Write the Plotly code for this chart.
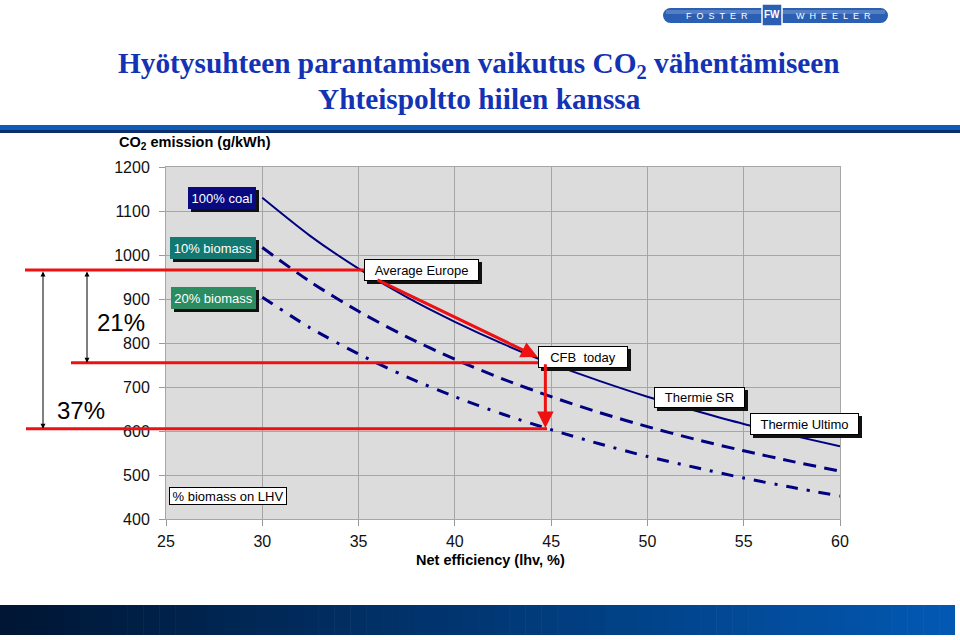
import plotly.graph_objects as go

# ---------------- data ----------------
efficiency = [30, 32.5, 35, 37.5, 40, 42.5, 45, 47.5, 50, 52.5, 55, 57.5, 60]
coal_100 = [1130, 1043, 969, 904, 848, 798, 753, 714, 678, 646, 616, 590, 565]
biomass_10 = [1017, 939, 872, 814, 763, 718, 678, 642, 610, 581, 555, 531, 509]
biomass_20 = [904, 834, 775, 723, 678, 638, 603, 571, 542, 517, 493, 472, 452]

x_ticks = [25, 30, 35, 40, 45, 50, 55, 60]
y_ticks = [400, 500, 600, 700, 800, 900, 1000, 1100, 1200]

avg_europe = (35.3, 966)
cfb_today = (44.7, 755)
reduced_20 = 605
diag_start = (35.9, 945)
diag_end = (44.3, 768)
thermie_sr = (50.35, 676)
thermie_ultimo = (55.35, 616)

# ---------------- layout geometry (pixels) ----------------
W_PX, H_PX = 960, 640
L, R, T, B = 166, 840, 167, 519
PW, PH = R - L, B - T


def px(x):
    return (x - L) / PW


def py(y):
    return (B - y) / PH


NAVY = "#000080"
RED = "#ee1111"
FONT = "Arial, Liberation Sans, sans-serif"

fig = go.Figure()
fig.add_trace(go.Scatter(x=efficiency, y=coal_100, mode="lines", name="100% coal",
                         line=dict(color=NAVY, width=2, shape="spline", smoothing=0.8)))
fig.add_trace(go.Scatter(x=efficiency, y=biomass_10, mode="lines", name="10% biomass",
                         line=dict(color=NAVY, width=3, dash="13px,8px", shape="spline", smoothing=0.8)))
fig.add_trace(go.Scatter(x=efficiency, y=biomass_20, mode="lines", name="20% biomass",
                         line=dict(color=NAVY, width=3, dash="12px,9px,3px,9px", shape="spline",
                                   smoothing=0.8)))

shapes = []
# red reduction lines
shapes.append(dict(type="line", xref="paper", yref="y", x0=px(25), x1=px(365),
                   y0=avg_europe[1], y1=avg_europe[1], line=dict(color=RED, width=3)))
shapes.append(dict(type="line", xref="paper", yref="y", x0=px(71), x1=px(547),
                   y0=cfb_today[1], y1=cfb_today[1], line=dict(color=RED, width=3)))
shapes.append(dict(type="line", xref="paper", yref="y", x0=px(26), x1=px(547),
                   y0=reduced_20, y1=reduced_20, line=dict(color=RED, width=3)))

# top blue band
shapes.append(dict(type="rect", xref="paper", yref="paper", x0=px(0), x1=px(960),
                   y0=py(130), y1=py(125), fillcolor="#0d5cb8", line=dict(width=0), layer="below"))
shapes.append(dict(type="rect", xref="paper", yref="paper", x0=px(0), x1=px(960),
                   y0=py(133), y1=py(130), fillcolor="#0a2f6a", line=dict(width=0), layer="below"))

# bottom gradient band
n = 60
c0, c1 = (0, 22, 52), (2, 88, 178)
for i in range(n):
    t = i / (n - 1)
    col = "rgb(%d,%d,%d)" % tuple(int(round(a + (b - a) * t)) for a, b in zip(c0, c1))
    x0 = 955 * i / n
    x1 = 955 * (i + 1) / n + 0.6
    shapes.append(dict(type="rect", xref="paper", yref="paper", x0=px(x0), x1=px(min(x1, 955)),
                       y0=py(635), y1=py(605), fillcolor=col, line=dict(width=0), layer="below"))

# logo pill
shapes.append(dict(type="rect", xref="paper", yref="paper", x0=px(670), x1=px(881),
                   y0=py(23), y1=py(8), fillcolor="#2b5fb3", line=dict(width=0)))
shapes.append(dict(type="circle", xref="paper", yref="paper", x0=px(663), x1=px(678),
                   y0=py(23), y1=py(8), fillcolor="#2b5fb3", line=dict(width=0)))
shapes.append(dict(type="circle", xref="paper", yref="paper", x0=px(873), x1=px(888),
                   y0=py(23), y1=py(8), fillcolor="#2b5fb3", line=dict(width=0)))
shapes.append(dict(type="rect", xref="paper", yref="paper", x0=px(666), x1=px(885),
                   y0=py(14), y1=py(10), fillcolor="rgba(255,255,255,0.2)", line=dict(width=0)))
shapes.append(dict(type="rect", xref="paper", yref="paper", x0=px(762), x1=px(782),
                   y0=py(26), y1=py(4), fillcolor="#2b5fb3", line=dict(color="white", width=1.5)))

annotations = []


def box(text, x, y, w, h, bg, fg, xanchor="left", xshift=0, shadow=True, border="black"):
    if shadow:
        annotations.append(dict(x=x, y=y, xref="x", yref="y", text=text, showarrow=False,
                                xanchor=xanchor, yanchor="middle", xshift=xshift + 3, yshift=-3,
                                width=w, height=h, bgcolor="#111111", bordercolor="#111111",
                                borderwidth=1, borderpad=0,
                                font=dict(family=FONT, size=13, color="#111111")))
    annotations.append(dict(x=x, y=y, xref="x", yref="y", text=text, showarrow=False,
                            xanchor=xanchor, yanchor="middle", xshift=xshift,
                            width=w, height=h, bgcolor=bg, bordercolor=border,
                            borderwidth=1, borderpad=0,
                            font=dict(family=FONT, size=13, color=fg)))


def label(text, x_px, y_px, size, color="black", weight="normal", family=FONT):
    annotations.append(dict(x=px(x_px), y=py(y_px), xref="paper", yref="paper", text=text,
                            showarrow=False, xanchor="center", yanchor="middle",
                            font=dict(family=family, size=size, color=color, weight=weight)))


box("100% coal", 30, 1130, 66, 20, "#0a0a80", "white", xanchor="right", xshift=-6, border="#0a0a80")
box("10% biomass", 30, 1016, 84, 20, "#127872", "white", xanchor="right", xshift=-6, border="#127872")
box("20% biomass", 30, 902, 83, 20, "#2a8c60", "white", xanchor="right", xshift=-6, border="#2a8c60")
box("Average Europe", avg_europe[0], avg_europe[1], 113, 20, "white", "black")
box("CFB\u00a0 today", 44.33, 768, 88, 20, "white", "black")
box("Thermie SR", thermie_sr[0], thermie_sr[1], 89, 19, "white", "black")
box("Thermie Ultimo", thermie_ultimo[0], thermie_ultimo[1], 107, 20, "white", "black")
box("% biomass on LHV", 25.16, 452, 116, 16, "white", "black", shadow=False)

# red arrows
annotations.append(dict(x=diag_end[0], y=diag_end[1], ax=diag_start[0], ay=diag_start[1],
                        xref="x", yref="y", axref="x", ayref="y", text="", showarrow=True,
                        arrowhead=2, arrowsize=1.1, arrowwidth=3, arrowcolor=RED, standoff=0))
annotations.append(dict(x=cfb_today[0], y=reduced_20 + 2, ax=cfb_today[0], ay=cfb_today[1],
                        xref="x", yref="y", axref="x", ayref="y", text="", showarrow=True,
                        arrowhead=2, arrowsize=1.1, arrowwidth=3, arrowcolor=RED, standoff=0))

# black double-headed arrows
annotations.append(dict(x=px(87), y=cfb_today[1], ax=0, ay=avg_europe[1], xref="paper", yref="y",
                        axref="pixel", ayref="y", text="", showarrow=True, arrowside="end+start",
                        arrowhead=2, arrowsize=1, arrowwidth=1, arrowcolor="black", standoff=0,
                        startstandoff=0, startarrowhead=2, startarrowsize=1))
annotations.append(dict(x=px(43), y=reduced_20, ax=0, ay=avg_europe[1], xref="paper", yref="y",
                        axref="pixel", ayref="y", text="", showarrow=True, arrowside="end+start",
                        arrowhead=2, arrowsize=1, arrowwidth=1, arrowcolor="black", standoff=0,
                        startstandoff=0, startarrowhead=2, startarrowsize=1))

# percent labels
label("21%", 121, 322, 24)
label("37%", 81, 410, 24)

# axis titles
label("CO<sub>2</sub> emission (g/kWh)", 195, 143, 14.5, weight="bold")
label("Net efficiency (lhv, %)", 490, 560, 14.5, weight="bold")

# title
TITLE_FONT = "Liberation Serif, Times New Roman, serif"
label("Hyötysuhteen parantamisen vaikutus CO<sub>2</sub> vähentämiseen", 479, 65, 29.3,
      color="#1432b4", weight="bold", family=TITLE_FONT)
label("Yhteispoltto hiilen kanssa", 479, 99, 29.3, color="#1432b4", weight="bold", family=TITLE_FONT)

# logo text
NB = "\u00a0"
label((NB * 2).join("FOSTER"), 717, 16, 9, color="white")
label((NB * 2).join("WHEELER"), 833, 16, 9, color="white")
label("<b>FW</b>", 772, 15, 10, color="white")

fig.update_layout(
    width=W_PX, height=H_PX,
    margin=dict(l=L, r=W_PX - R, t=T, b=H_PX - B, pad=0),
    paper_bgcolor="white",
    plot_bgcolor="#dcdcdc",
    showlegend=False,
    shapes=shapes,
    annotations=annotations,
    hovermode=False,
    font=dict(family=FONT, color="black"),
)
fig.update_xaxes(range=[25, 60], tickvals=x_ticks, ticks="outside", ticklen=6, tickcolor="#999999",
                 showgrid=True, gridcolor="#a6a6a6", gridwidth=1, zeroline=False,
                 showline=True, linecolor="#a6a6a6", mirror=True, ticklabelstandoff=2,
                 tickfont=dict(family=FONT, size=16, color="#111111"))
fig.update_yaxes(range=[400, 1200], tickvals=y_ticks, ticks="outside", ticklen=6, tickcolor="#999999",
                 showgrid=True, gridcolor="#a6a6a6", gridwidth=1, zeroline=False,
                 showline=True, linecolor="#a6a6a6", mirror=True, ticklabelstandoff=6,
                 tickfont=dict(family=FONT, size=16, color="#111111"))

fig.write_html("out.html", config={"displayModeBar": False},
               post_script="document.body.style.margin='0';document.body.style.padding='0';")
